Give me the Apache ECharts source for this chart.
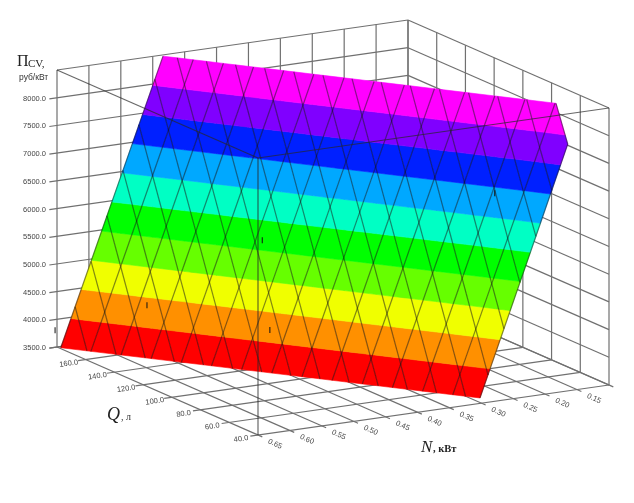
<!DOCTYPE html>
<html>
<head>
<meta charset="utf-8">
<title>Surface</title>
<script src="https://cdn.jsdelivr.net/npm/echarts@6/dist/echarts.min.js"></script>
<style>
  html, body { margin: 0; padding: 0; background: #fff; }
  #chart { width: 634px; height: 503px; filter: blur(0.6px); }
</style>
</head>
<body>
<div id="chart"></div>
<script>
const _ = null;
// axis ticks
const zTicks = [3500, 4000, 4500, 5000, 5500, 6000, 6500, 7000, 7500, 8000, 8500];
const qTicks = [180, 160, 140, 120, 100, 80, 60, 40];
const nTicks = [0.65, 0.6, 0.55, 0.5, 0.45, 0.4, 0.35, 0.3, 0.25, 0.2, 0.15, 0.1];
// the first / last tick of each axis has no label on the original
const zLabels = ["3500.0", "4000.0", "4500.0", "5000.0", "5500.0", "6000.0", "6500.0", "7000.0", "7500.0", "8000.0"];
const qLabels = ["160.0", "140.0", "120.0", "100.0", "80.0", "60.0", "40.0"];
const nLabels = ["0.65", "0.60", "0.55", "0.50", "0.45", "0.40", "0.35", "0.30", "0.25", "0.20", "0.15"];

// surface nodes (_ = outside the drawn range)
const nValues = [0.65, 0.625, 0.6, 0.575, 0.55, 0.525, 0.5, 0.475, 0.45, 0.425, 0.4, 0.375, 0.35, 0.325, 0.3, 0.275, 0.25, 0.225, 0.2, 0.175, 0.15];
const qValues = [178.5, 169, 159.5, 150, 140.5, 131, 121.5, 112, 102.5, 93, 83.5, 74, 64.5, 55, 46.5];
const costRows = [
  [3422, 4202, 4982, 5762, 6542, 7322, 8102, 8882, 9662, _, _, _, _, _, _, _, _, _, _, _, _],
  [2615, 3395, 4175, 4955, 5735, 6515, 7295, 8075, 8855, 9635, _, _, _, _, _, _, _, _, _, _, _],
  [_, 2587, 3367, 4147, 4927, 5707, 6487, 7267, 8047, 8827, 9607, _, _, _, _, _, _, _, _, _, _],
  [_, _, 2560, 3340, 4120, 4900, 5680, 6460, 7240, 8020, 8800, 9580, _, _, _, _, _, _, _, _, _],
  [_, _, _, 2532, 3312, 4092, 4872, 5652, 6432, 7212, 7992, 8772, 9552, _, _, _, _, _, _, _, _],
  [_, _, _, _, 2505, 3285, 4065, 4845, 5625, 6405, 7185, 7965, 8745, 9525, _, _, _, _, _, _, _],
  [_, _, _, _, _, 2477, 3257, 4037, 4817, 5597, 6377, 7157, 7937, 8717, 9497, _, _, _, _, _, _],
  [_, _, _, _, _, _, 2450, 3230, 4010, 4790, 5570, 6350, 7130, 7910, 8690, 9470, _, _, _, _, _],
  [_, _, _, _, _, _, _, 2422, 3202, 3982, 4762, 5542, 6322, 7102, 7882, 8662, 9442, _, _, _, _],
  [_, _, _, _, _, _, _, _, 2395, 3175, 3955, 4735, 5515, 6295, 7075, 7855, 8635, 9415, _, _, _],
  [_, _, _, _, _, _, _, _, _, 2367, 3147, 3927, 4707, 5487, 6267, 7047, 7827, 8607, 9387, _, _],
  [_, _, _, _, _, _, _, _, _, _, 2340, 3120, 3900, 4680, 5460, 6240, 7020, 7800, 8580, 9360, _],
  [_, _, _, _, _, _, _, _, _, _, _, 2312, 3092, 3872, 4652, 5432, 6212, 6992, 7772, 8552, 9332],
  [_, _, _, _, _, _, _, _, _, _, _, _, 2285, 3065, 3845, 4625, 5405, 6185, 6965, 7745, 8525],
  [_, _, _, _, _, _, _, _, _, _, _, _, _, 2311, 3104, 3896, 4688, 5480, 6272, 7064, 7856],
];
// short dark marks on the original: Q, N, cost
const markPoints = [[156.9, 0.561, 4370], [117.1, 0.458, 4205], [63.6, 0.226, 6900], [129, 0.443, 5665], [180, 0.653, 3807]];
// one colour per z interval, bottom to top
const bandColors = ["#FF0000", "#FF9000", "#F0FF00", "#66FF00", "#00FF00", "#00FFC4", "#00A8FF", "#0020FF", "#8000FF", "#FF00FF"];

// oblique projection of the cube onto the page
const origin = [57, 347];
const qVec = [201, 88];
const nVec = [351, -50];
const zVec = [0, -277];
function project(q, n, z) {
  const s = (180 - q) / 140, t = (0.65 - n) / 0.55, w = (z - 3500) / 5000;
  return [
    origin[0] + s * qVec[0] + t * nVec[0] + w * zVec[0],
    origin[1] + s * qVec[1] + t * nVec[1] + w * zVec[1],
  ];
}

function lerpPt(a, b, z) {
  const k = (z - a[2]) / (b[2] - a[2]);
  return [a[0] + (b[0] - a[0]) * k, a[1] + (b[1] - a[1]) * k, z];
}
// cut a polygon on one z level
function clipSide(pts, level, keepAbove) {
  const out = [];
  pts.forEach((p, i) => {
    const next = pts[(i + 1) % pts.length];
    const pIn = keepAbove ? p[2] >= level : p[2] <= level;
    const nIn = keepAbove ? next[2] >= level : next[2] <= level;
    if (pIn) out.push(p);
    if (pIn !== nIn) out.push(lerpPt(p, next, level));
  });
  return out;
}
function clipBand(pts, lo, hi) {
  let res = clipSide(pts, lo, true);
  if (res.length) res = clipSide(res, hi, false);
  return res;
}
function clipSegment(a, b, lo, hi) {
  if ((a[2] < lo && b[2] < lo) || (a[2] > hi && b[2] > hi)) return null;
  let p = a, q = b;
  if (p[2] < lo) p = lerpPt(a, b, lo);
  if (p[2] > hi) p = lerpPt(a, b, hi);
  if (q[2] < lo) q = lerpPt(a, b, lo);
  if (q[2] > hi) q = lerpPt(a, b, hi);
  return [p, q];
}

// coloured bands, cell by cell
const bandPolys = [];
for (let i = 0; i < qValues.length - 1; i++) {
  for (let j = 0; j < nValues.length - 1; j++) {
    const z = [costRows[i][j], costRows[i][j + 1], costRows[i + 1][j + 1], costRows[i + 1][j]];
    if (z.includes(null)) continue;
    const cell = [
      [qValues[i], nValues[j], z[0]],
      [qValues[i], nValues[j + 1], z[1]],
      [qValues[i + 1], nValues[j + 1], z[2]],
      [qValues[i + 1], nValues[j], z[3]],
    ];
    bandColors.forEach((color, b) => {
      const pts = clipBand(cell, zTicks[b], zTicks[b + 1]);
      if (pts.length > 2) bandPolys.push({ pts, color });
    });
  }
}

// wireframe on the surface
const wireSegs = [];
function addWire(a, b) {
  if (a[2] === null || b[2] === null) return;
  const seg = clipSegment(a, b, 3500, 8500);
  if (seg) wireSegs.push(seg);
}
qValues.forEach((q, i) => {
  nValues.forEach((n, j) => {
    if (j + 1 < nValues.length) addWire([q, n, costRows[i][j]], [q, nValues[j + 1], costRows[i][j + 1]]);
    if (i + 1 < qValues.length) addWire([q, n, costRows[i][j]], [qValues[i + 1], n, costRows[i + 1][j]]);
  });
});

// walls and floor of the cube
const gridSegs = [];
qTicks.forEach((q) => {
  gridSegs.push([[q, 0.662, 3500], [q, 0.1, 3500]]);
  gridSegs.push([[q, 0.1, 3500], [q, 0.1, 8500]]);
});
nTicks.forEach((n) => {
  gridSegs.push([[37, n, 3500], [180, n, 3500]]);
  gridSegs.push([[180, n, 3500], [180, n, 8500]]);
});
zTicks.forEach((z) => {
  gridSegs.push([[180, z === 8500 ? 0.65 : 0.662, z], [180, 0.1, z]]);
  gridSegs.push([[180, 0.1, z], [40, 0.1, z]]);
});
// the near edges run over the surface
const frontSegs = [
  [[180, 0.65, 8500], [40, 0.65, 8500]],
  [[40, 0.65, 8500], [40, 0.1, 8500]],
  [[40, 0.65, 3500], [40, 0.65, 8500]],
];
const markSegs = markPoints.map((p) => [[p[0], p[1], p[2] - 55], [p[0], p[1], p[2] + 55]]);

const tickTexts = [];
zLabels.forEach((text, i) => {
  tickTexts.push({ text, at: [180, 0.65, zTicks[i]], dx: -11, dy: 1, align: "right", rot: 0 });
});
qLabels.forEach((text, i) => {
  tickTexts.push({ text, at: [qTicks[i + 1], 0.65, 3500], dx: -17, dy: 4, align: "center", rot: 0.14 });
});
nLabels.forEach((text, i) => {
  tickTexts.push({ text, at: [40, nTicks[i], 3500], dx: 17, dy: 9, align: "center", rot: -0.42 });
});

function segmentSeries(segs, color, width, z) {
  return {
    type: "custom",
    coordinateSystem: "cartesian2d",
    silent: true,
    clip: false,
    z,
    data: segs.map((s, i) => [i, i]),
    renderItem(params, api) {
      const seg = segs[params.dataIndex];
      const a = api.coord(project(seg[0][0], seg[0][1], seg[0][2]));
      const b = api.coord(project(seg[1][0], seg[1][1], seg[1][2]));
      return {
        type: "line",
        shape: { x1: a[0], y1: a[1], x2: b[0], y2: b[1] },
        style: { stroke: color, lineWidth: width, fill: null },
      };
    },
  };
}

const chart = echarts.init(document.getElementById("chart"));
chart.setOption({
  animation: false,
  backgroundColor: "#fff",
  tooltip: { show: false },
  grid: { left: 0, right: 0, top: 0, bottom: 0 },
  xAxis: { type: "value", min: 0, max: 634, show: false },
  yAxis: { type: "value", min: 0, max: 503, inverse: true, show: false },
  series: [
    segmentSeries(gridSegs, "#707070", 1.2, 1),
    {
      type: "custom",
      coordinateSystem: "cartesian2d",
      silent: true,
      clip: false,
      z: 2,
      data: bandPolys.map((p, i) => [i, i]),
      renderItem(params, api) {
        const poly = bandPolys[params.dataIndex];
        return {
          type: "polygon",
          shape: { points: poly.pts.map((p) => api.coord(project(p[0], p[1], p[2]))) },
          style: { fill: poly.color, stroke: poly.color, lineWidth: 0.6 },
        };
      },
    },
    segmentSeries(wireSegs, "rgba(20,20,20,0.5)", 1.2, 3),
    segmentSeries(frontSegs, "rgba(40,40,40,0.7)", 1.2, 4),
    segmentSeries(markSegs, "rgba(20,20,20,0.8)", 1.3, 4),
    {
      type: "custom",
      coordinateSystem: "cartesian2d",
      silent: true,
      clip: false,
      z: 5,
      data: tickTexts.map((t, i) => [i, i]),
      renderItem(params, api) {
        const t = tickTexts[params.dataIndex];
        const c = api.coord(project(t.at[0], t.at[1], t.at[2]));
        return {
          type: "text",
          x: c[0] + t.dx,
          y: c[1] + t.dy,
          rotation: t.rot,
          style: {
            text: t.text,
            x: 0,
            y: 0,
            align: t.align,
            verticalAlign: "middle",
            fill: "#444",
            font: '7.5px "Liberation Sans"',
          },
        };
      },
    },
  ],
  graphic: [
    { type: "text", left: 17, top: 54, z: 10, style: { text: "П", fill: "#222", font: '16px "Liberation Serif"' } },
    { type: "text", left: 28, top: 59, z: 10, style: { text: "CV,", fill: "#222", font: '11px "Liberation Serif"' } },
    { type: "text", left: 19, top: 73, z: 10, style: { text: "руб/кВт", fill: "#333", font: '8.5px "Liberation Sans"' } },
    { type: "text", left: 107, top: 406, z: 10, style: { text: "Q", fill: "#222", font: 'italic 18px "Liberation Serif"' } },
    { type: "text", left: 121, top: 412, z: 10, style: { text: ", л", fill: "#333", font: '10px "Liberation Serif"' } },
    { type: "text", left: 421, top: 439, z: 10, style: { text: "N", fill: "#222", font: 'italic 17px "Liberation Serif"' } },
    { type: "text", left: 433, top: 444, z: 10, style: { text: ", кВт", fill: "#222", font: 'bold 10.5px "Liberation Serif"' } },
  ],
});
</script>
</body>
</html>
